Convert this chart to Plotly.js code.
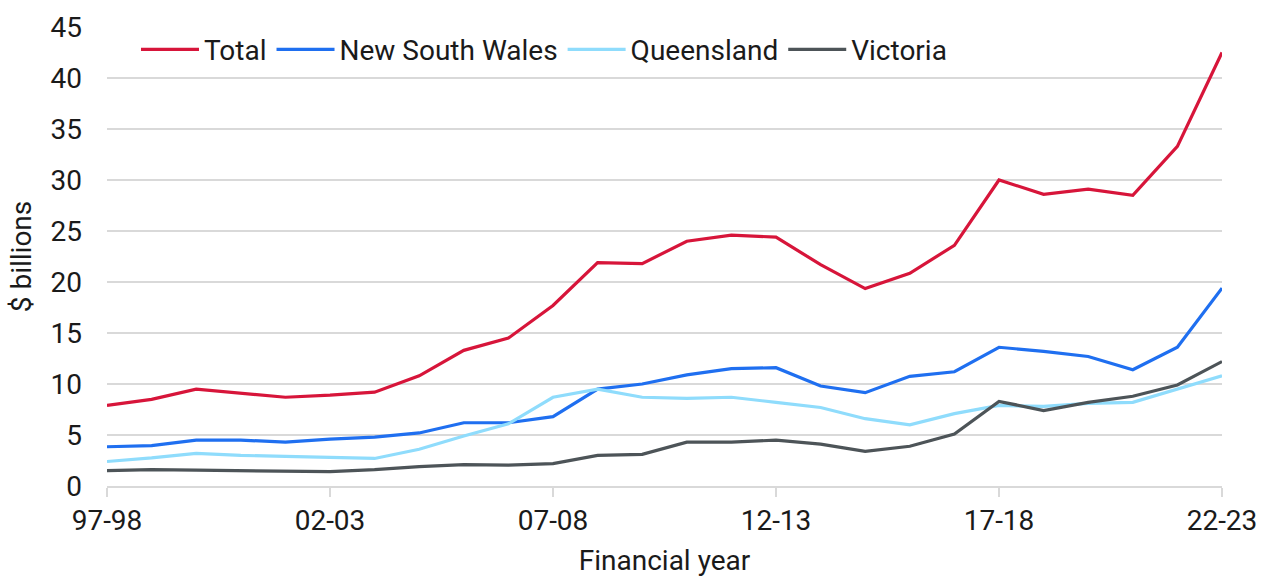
<!DOCTYPE html>
<html>
<head>
<meta charset="utf-8">
<script src="https://cdn.plot.ly/plotly-3.0.1.min.js"></script>
<style>html,body{margin:0;padding:0;background:#fff;}#chart{width:1274px;height:577px;}</style>
</head>
<body>
<div id="chart"></div>
<script>
const years = ["97-98","98-99","99-00","00-01","01-02","02-03","03-04","04-05","05-06","06-07","07-08","08-09","09-10","10-11","11-12","12-13","13-14","14-15","15-16","16-17","17-18","18-19","19-20","20-21","21-22","22-23"];
const tickLabels = ["97-98","02-03","07-08","12-13","17-18","22-23"];
const total = [7.9,8.5,9.5,9.1,8.7,8.9,9.2,10.8,13.3,14.5,17.7,21.9,21.8,24.0,24.6,24.4,21.7,19.35,20.85,23.6,30.0,28.6,29.1,28.5,33.3,42.5];
const nsw = [3.85,3.95,4.5,4.5,4.3,4.6,4.8,5.2,6.2,6.2,6.8,9.5,10.0,10.9,11.5,11.6,9.8,9.15,10.75,11.2,13.6,13.2,12.7,11.4,13.6,19.4];
const qld = [2.4,2.75,3.2,3.0,2.9,2.8,2.7,3.6,4.9,6.1,8.7,9.5,8.7,8.6,8.7,8.2,7.7,6.6,6.0,7.1,7.9,7.8,8.1,8.2,9.5,10.8];
const vic = [1.5,1.6,1.55,1.5,1.4,1.4,1.6,1.9,2.1,2.05,2.2,3.0,3.1,4.3,4.3,4.5,4.1,3.4,3.9,5.1,8.3,7.4,8.2,8.8,9.9,12.2];

const mk = (name, y, color) => ({x: years, y: y, name: name, type: 'scatter', mode: 'lines', line: {color: color, width: 3.2}});
const data = [
  mk('Total', total, '#d7153a'),
  mk('New South Wales', nsw, '#1f6ff0'),
  mk('Queensland', qld, '#8fdcfc'),
  mk('Victoria', vic, '#4d5458')
];
const font = {family: 'Roboto, "Liberation Sans", sans-serif', size: 28, color: '#1a1a1a'};
const layout = {
  width: 1274, height: 577,
  margin: {l: 107, r: 52, t: 27, b: 91},
  paper_bgcolor: '#fff', plot_bgcolor: '#fff',
  font: font,
  showlegend: true,
  legend: {orientation: 'h', x: 0.026, y: 1.005, xanchor: 'left', yanchor: 'top', font: font, bgcolor: 'rgba(0,0,0,0)', itemgap: 20, itemwidth: 58, tracegroupgap: 0},
  xaxis: {
    type: 'category', range: [0, 25], tickvals: tickLabels, ticktext: tickLabels,
    showgrid: false, showline: true, linecolor: '#d9d9d9', linewidth: 1.5,
    ticks: 'outside', ticklen: 9, tickcolor: '#d9d9d9', tickwidth: 1.5,
    tickfont: font, zeroline: false,
    title: {text: 'Financial year', font: font, standoff: 14}
  },
  yaxis: {
    range: [0, 45], dtick: 5, tick0: 0, showgrid: true, gridcolor: '#d9d9d9', gridwidth: 1.5,
    zeroline: false, showline: false, ticks: '', tickfont: font, ticklabelstandoff: 24,
    title: {text: '$ billions', font: font, standoff: 10}
  }
};
Plotly.newPlot('chart', data, layout, {staticPlot: true, displayModeBar: false});
</script>
</body>
</html>
